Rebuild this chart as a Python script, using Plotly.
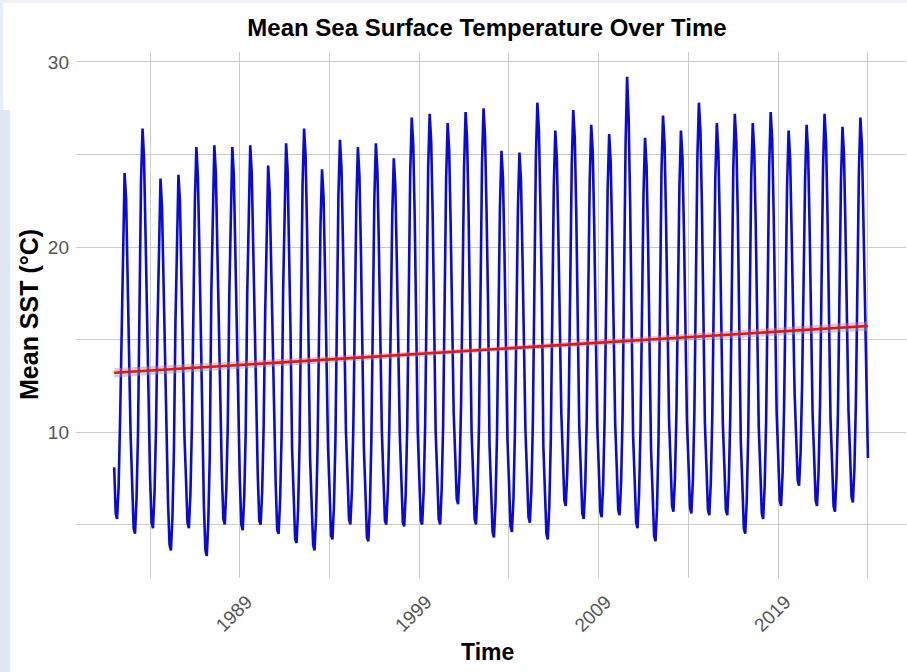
import plotly.graph_objects as go
import pandas as pd

# ---- data (monthly mean SST, °C) ----
years = list(range(1982, 2024))
sst_monthly = [
    [8.1, 5.6, 5.3, 7.0, 10.6, 16.0, 21.1, 24.0, 22.6, 18.4, 13.6, 9.9],   # 1982
    [7.3, 4.8, 4.5, 6.4, 9.9, 18.3, 23.5, 26.4, 24.8, 20.7, 15.6, 10.6],   # 1983
    [7.6, 5.1, 4.8, 6.7, 10.1, 15.8, 20.8, 23.7, 22.1, 18.2, 13.2, 8.9],   # 1984
    [6.2, 3.9, 3.6, 5.4, 9.0, 15.9, 21.0, 23.9, 22.5, 18.3, 13.4, 9.8],    # 1985
    [7.5, 5.1, 4.8, 6.6, 10.2, 17.3, 22.4, 25.4, 23.8, 19.9, 14.9, 8.7],   # 1986
    [6.0, 3.6, 3.3, 5.2, 8.8, 17.5, 22.6, 25.5, 24.0, 20.0, 15.0, 10.2],   # 1987
    [7.8, 5.3, 5.0, 6.9, 10.4, 17.4, 22.3, 25.4, 23.9, 19.8, 14.8, 9.6],   # 1988
    [7.4, 5.0, 4.7, 6.5, 10.0, 17.5, 22.5, 25.5, 24.0, 20.0, 15.0, 9.9],   # 1989
    [7.7, 5.2, 5.0, 6.8, 10.3, 16.4, 21.4, 24.4, 22.9, 18.9, 13.8, 9.4],   # 1990
    [7.2, 4.7, 4.5, 6.3, 9.8, 17.6, 22.6, 25.6, 24.1, 20.1, 15.1, 9.1],    # 1991
    [6.6, 4.2, 4.0, 5.8, 9.4, 18.4, 23.4, 26.4, 24.9, 20.9, 15.9, 8.6],    # 1992
    [6.2, 3.9, 3.6, 5.4, 9.0, 16.2, 21.2, 24.2, 22.7, 18.7, 13.7, 9.2],    # 1993
    [6.9, 4.4, 4.2, 6.0, 9.6, 17.8, 22.8, 25.8, 24.3, 20.3, 15.3, 10.0],   # 1994
    [7.7, 5.3, 5.0, 6.8, 10.4, 17.4, 22.4, 25.4, 23.9, 19.9, 14.9, 9.1],   # 1995
    [6.8, 4.3, 4.1, 5.9, 9.5, 17.6, 22.6, 25.6, 24.1, 20.1, 15.1, 10.0],   # 1996
    [7.6, 5.2, 5.0, 6.8, 10.3, 16.8, 21.8, 24.8, 23.3, 19.3, 14.3, 9.9],   # 1997
    [7.5, 5.1, 4.9, 6.7, 10.3, 19.0, 24.0, 27.0, 25.5, 21.5, 16.5, 10.0],  # 1998
    [7.6, 5.2, 5.0, 6.8, 10.4, 19.2, 24.2, 27.2, 25.7, 21.7, 16.6, 10.0],  # 1999
    [7.7, 5.3, 5.0, 6.9, 10.4, 18.7, 23.7, 26.7, 25.2, 21.2, 16.2, 11.1],  # 2000
    [8.8, 6.4, 6.1, 7.9, 11.5, 19.3, 24.3, 27.3, 25.8, 21.8, 16.8, 10.0],  # 2001
    [7.7, 5.3, 5.0, 6.8, 10.4, 19.5, 24.5, 27.5, 26.0, 22.0, 17.0, 9.3],   # 2002
    [7.0, 4.6, 4.3, 6.1, 9.7, 17.2, 22.2, 25.2, 23.7, 19.7, 14.7, 9.6],    # 2003
    [7.3, 4.9, 4.6, 6.4, 10.0, 17.1, 22.1, 25.1, 23.6, 19.6, 14.6, 10.1],  # 2004
    [7.8, 5.4, 5.1, 6.9, 10.5, 19.8, 24.8, 27.8, 26.3, 22.3, 17.3, 9.2],   # 2005
    [6.9, 4.5, 4.2, 6.0, 9.6, 18.3, 23.3, 26.3, 24.8, 20.8, 15.8, 11.0],   # 2006
    [8.7, 6.3, 6.0, 7.8, 11.4, 19.4, 24.4, 27.4, 25.9, 21.9, 16.9, 10.3],  # 2007
    [8.0, 5.6, 5.3, 7.1, 10.7, 18.6, 23.6, 26.6, 25.1, 21.1, 16.1, 10.4],  # 2008
    [8.1, 5.7, 5.4, 7.2, 10.8, 18.1, 23.1, 26.1, 24.6, 20.6, 15.6, 10.5],  # 2009
    [8.2, 5.8, 5.5, 7.3, 10.9, 20.2, 25.6, 29.2, 27.0, 22.5, 16.8, 9.8],   # 2010
    [7.5, 5.1, 4.8, 6.6, 10.2, 17.9, 22.9, 25.9, 24.4, 20.4, 15.4, 9.1],   # 2011
    [6.8, 4.4, 4.1, 5.9, 9.5, 19.1, 24.1, 27.1, 25.6, 21.6, 16.6, 10.7],   # 2012
    [8.4, 6.0, 5.7, 7.5, 11.1, 18.3, 23.3, 26.3, 24.8, 20.8, 15.8, 10.6],  # 2013
    [8.3, 5.9, 5.6, 7.4, 11.0, 19.8, 24.8, 27.8, 26.3, 22.3, 17.3, 10.5],  # 2014
    [8.2, 5.8, 5.5, 7.3, 10.9, 18.7, 23.7, 26.7, 25.2, 21.2, 16.2, 10.5],  # 2015
    [8.2, 5.8, 5.5, 7.3, 10.9, 19.2, 24.2, 27.2, 25.7, 21.7, 16.7, 9.5],   # 2016
    [7.2, 4.8, 4.5, 6.3, 9.9, 18.7, 23.7, 26.7, 25.2, 21.2, 16.2, 10.3],   # 2017
    [8.0, 5.6, 5.3, 7.1, 10.7, 19.3, 24.3, 27.3, 25.8, 21.8, 16.8, 11.0],  # 2018
    [8.7, 6.3, 6.0, 7.8, 11.4, 18.3, 23.3, 26.3, 24.8, 20.8, 15.8, 12.1],  # 2019
    [9.8, 7.4, 7.1, 8.9, 12.5, 18.6, 23.6, 26.6, 25.1, 21.1, 16.1, 11.0],  # 2020
    [8.7, 6.3, 6.0, 7.8, 11.4, 19.2, 24.2, 27.2, 25.7, 21.7, 16.7, 10.7],  # 2021
    [8.4, 6.0, 5.7, 7.5, 11.1, 18.5, 23.5, 26.5, 25.0, 21.0, 16.0, 11.2],  # 2022
    [8.9, 6.5, 6.2, 8.0, 11.6, 19.0, 24.0, 27.0, 25.5, 21.5, 16.5, 11.8],  # 2023
]
sst_final = [8.6]            # January 2024
final_date = ["2024-01-01"]

# linear trend (geom_smooth, method = "lm")
trend_dates = ["1982-01-01", "2003-01-01", "2024-01-01"]
trend_values = [13.2, 14.46, 15.73]
trend_halfwidth = [0.25, 0.12, 0.25]

major_ticks = ["1989-01-01", "1999-01-01", "2009-01-01", "2019-01-01"]
major_labels = ["1989", "1999", "2009", "2019"]
minor_ticks = ["1984-01-01", "1994-01-01", "2004-01-01", "2014-01-01", "2024-01-01"]
y_ticks = [10, 20, 30]
y_minor = [5, 15, 25]

# ---- build series ----
dates = []
values = []
for yr, row in zip(years, sst_monthly):
    for m, v in enumerate(row, start=1):
        dates.append(pd.Timestamp(year=yr, month=m, day=1))
        values.append(v)
dates += [pd.Timestamp(d) for d in final_date]
values += sst_final

t_dates = [pd.Timestamp(d) for d in trend_dates]
band_x = t_dates + t_dates[::-1]
band_y = [v + h for v, h in zip(trend_values, trend_halfwidth)] + \
         [v - h for v, h in zip(trend_values[::-1], trend_halfwidth[::-1])]

fig = go.Figure()
fig.add_trace(go.Scatter(x=dates, y=values, mode="lines",
                         line=dict(color="#0a0ad8", width=2.6), showlegend=False,
                         hoverinfo="skip"))
fig.add_trace(go.Scatter(x=band_x, y=band_y, fill="toself", mode="none",
                         fillcolor="rgba(153,153,153,0.45)", showlegend=False,
                         hoverinfo="skip"))
fig.add_trace(go.Scatter(x=[t_dates[0], t_dates[-1]], y=[trend_values[0], trend_values[-1]],
                         mode="lines", line=dict(color="#ee1111", width=2.6),
                         showlegend=False, hoverinfo="skip"))

W, H = 907, 672
L, R, T, B = 76, 1, 52, 94
pw, ph = W - L - R, H - T - B


def px_x(p):
    return (p - L) / pw


def px_y(p):
    return (H - B - p) / ph


grid = "#cbcbcb"
fig.update_layout(
    width=W, height=H,
    margin=dict(l=L, r=R, t=T, b=B),
    paper_bgcolor="white", plot_bgcolor="white",
    font=dict(family="Liberation Sans, Arial, sans-serif"),
    title=dict(text="<b>Mean Sea Surface Temperature Over Time</b>",
               x=487 / W, xref="container", xanchor="center",
               y=1 - 28 / H, yref="container", yanchor="middle",
               font=dict(size=24, color="black")),
    xaxis=dict(type="date",
               range=["1979-11-16", "2026-02-14"],
               tickvals=major_ticks, ticktext=major_labels,
               tickangle=-45, ticks="",
               tickfont=dict(size=19, color="#555555"),
               ticklabelstandoff=8, ticklabelshift=7,
               showgrid=True, gridcolor=grid, gridwidth=1.3,
               zeroline=False, showline=False,
               minor=dict(tickvals=minor_ticks, showgrid=True,
                          gridcolor=grid, gridwidth=1.3, ticks="")),
    yaxis=dict(range=[2.11, 30.54],
               tickvals=y_ticks, ticks="",
               tickfont=dict(size=19, color="#555555"),
               showgrid=True, gridcolor=grid, gridwidth=1.3,
               zeroline=False, showline=False, ticklabelstandoff=6,
               minor=dict(tickvals=y_minor, showgrid=True,
                          gridcolor=grid, gridwidth=1.3, ticks="")),
    annotations=[
        dict(text="<b>Time</b>", xref="paper", yref="paper",
             x=px_x(487), y=px_y(652), xanchor="center", yanchor="middle",
             showarrow=False, font=dict(size=23, color="black")),
        dict(text="<b>Mean SST (°C)</b>", xref="paper", yref="paper",
             x=px_x(29), y=px_y(315), xanchor="center", yanchor="middle",
             textangle=-90, showarrow=False, font=dict(size=25, color="black")),
    ],
    shapes=[
        dict(type="rect", xref="paper", yref="paper", layer="below",
             x0=px_x(0), x1=px_x(10), y0=px_y(672), y1=px_y(110),
             fillcolor="#dfe7f6", line=dict(width=0)),
        dict(type="rect", xref="paper", yref="paper", layer="below",
             x0=px_x(0), x1=px_x(3), y0=px_y(110), y1=px_y(0),
             fillcolor="#e8eef8", line=dict(width=0)),
        dict(type="rect", xref="paper", yref="paper", layer="below",
             x0=px_x(0), x1=px_x(907), y0=px_y(3), y1=px_y(0),
             fillcolor="#eef1f8", line=dict(width=0)),
    ],
)

fig.write_html("out.html", config={"displayModeBar": False},
               post_script="document.body.style.margin='0';document.body.style.padding='0';")
